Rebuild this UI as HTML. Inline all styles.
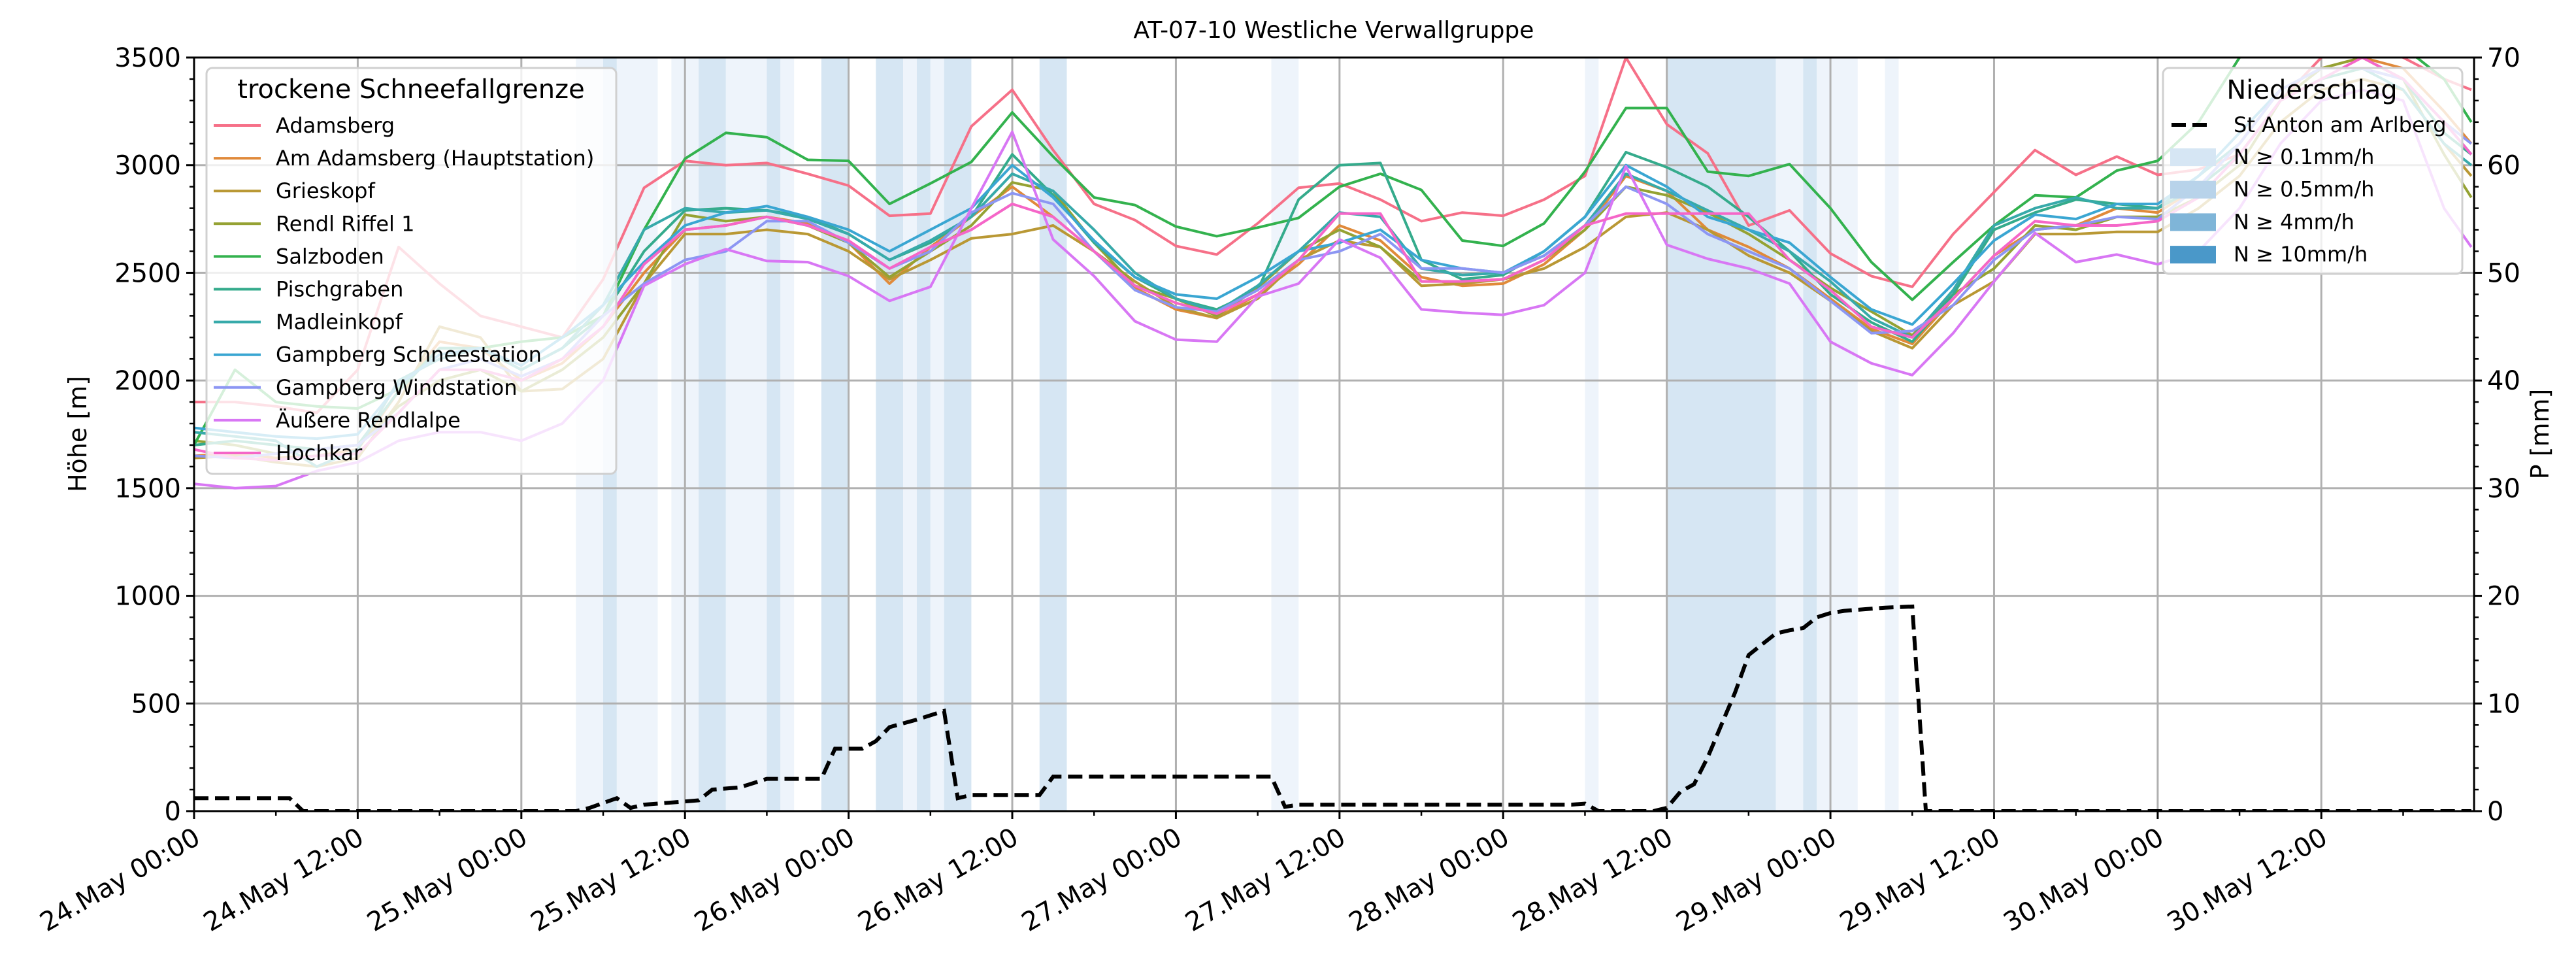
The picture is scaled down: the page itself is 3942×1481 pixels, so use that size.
<!DOCTYPE html>
<html><head><meta charset="utf-8"><style>
html,body{margin:0;padding:0;background:#fff;}
svg{display:block;font-family:"DejaVu Sans","Liberation Sans",sans-serif;}
</style></head><body>
<svg id="chart" xmlns="http://www.w3.org/2000/svg" width="3942" height="1481" viewBox="0 0 3942 1481">
<defs><clipPath id="clip"><rect x="297" y="88" width="3489" height="1153"/></clipPath></defs>
<g id="bands" clip-path="url(#clip)"></g>
<g id="grid"></g>
<g id="series" clip-path="url(#clip)"></g>
<g id="precip" clip-path="url(#clip)"></g>
<g id="axes"></g>
<text x="2041" y="58" font-size="36" text-anchor="middle">AT-07-10 Westliche Verwallgruppe</text>
<text transform="translate(132,664) rotate(-90)" font-size="38" text-anchor="middle">Höhe [m]</text>
<text transform="translate(3900,664) rotate(-90)" font-size="38" text-anchor="middle">P [mm]</text>
<g id="legend1"></g>
<g id="legend2"></g>
</svg>
<script>
const hours=[0,3,6,9,12,15,18,21,24,27,30,33,36,39,42,45,48,51,54,57,60,63,66,69,72,75,78,81,84,87,90,93,96,99,102,105,108,111,114,117,120,123,126,129,132,135,138,141,144,147,150,153,156,159,162,165,167];
const stationNames=["Adamsberg","Am Adamsberg (Hauptstation)","Grieskopf","Rendl Riffel 1","Salzboden","Pischgraben","Madleinkopf","Gampberg Schneestation","Gampberg Windstation","Äußere Rendlalpe","Hochkar"];
const stationColors=["#f67088","#e08a3a","#b99834","#95a233","#33b24e","#35ab8c","#37aaaa","#3aa6d2","#8c96f3","#d877f4","#f566c8"];
const adamsberg=[1900,1900,1880,1850,2050,2620,2450,2300,2250,2200,2470,2895,3020,3000,3010,2960,2905,2765,2775,3180,3350,3070,2820,2745,2625,2585,2730,2895,2915,2840,2740,2780,2765,2840,2950,3500,3190,3055,2720,2790,2590,2485,2435,2680,2875,3070,2955,3040,2955,2980,3050,3300,3500,3550,3500,3400,3350];
const amAdamsberg=[1650,1660,1640,1650,1680,1950,2180,2150,2000,2080,2250,2500,2700,2720,2760,2730,2640,2450,2620,2760,2900,2760,2600,2430,2330,2290,2400,2540,2720,2650,2480,2440,2450,2540,2700,2950,2880,2700,2620,2520,2380,2240,2170,2380,2580,2700,2720,2800,2780,2900,3100,3350,3450,3500,3450,3250,3100];
const grieskopf=[1640,1650,1620,1600,1640,1900,2250,2200,1950,1960,2100,2450,2680,2680,2700,2680,2600,2470,2560,2660,2680,2720,2600,2460,2340,2290,2380,2560,2650,2620,2440,2450,2470,2520,2620,2760,2780,2700,2580,2500,2370,2230,2150,2350,2460,2680,2680,2690,2690,2800,2950,3200,3350,3400,3350,3100,2950];
const rendlRiffel=[1720,1700,1660,1680,1700,1880,2000,2050,1950,2050,2200,2450,2770,2740,2760,2720,2640,2480,2600,2720,2920,2880,2640,2440,2380,2300,2430,2600,2700,2620,2460,2460,2470,2560,2700,2900,2860,2780,2680,2560,2430,2320,2210,2400,2520,2720,2700,2760,2760,2850,3000,3300,3450,3500,3400,3050,2850];
const salzboden=[1700,2050,1900,1880,1870,1960,2150,2150,2180,2200,2300,2700,3030,3150,3130,3025,3020,2820,2915,3015,3245,3040,2850,2815,2715,2670,2710,2755,2900,2960,2885,2650,2625,2730,2970,3265,3265,2970,2950,3005,2800,2550,2375,2550,2720,2860,2850,2975,3020,3200,3500,3600,3600,3600,3550,3400,3200];
const pischgraben=[1700,1720,1700,1680,1700,1950,2150,2150,2050,2150,2300,2600,2790,2800,2790,2760,2680,2560,2640,2760,3050,2860,2640,2480,2380,2330,2420,2840,3000,3010,2560,2470,2490,2600,2760,3060,2990,2900,2760,2600,2400,2270,2180,2400,2700,2780,2840,2820,2800,2900,3050,3300,3400,3450,3400,3150,3050];
const madleinkopf=[1760,1740,1720,1600,1680,2000,2100,2150,2050,2150,2350,2700,2800,2780,2790,2750,2680,2560,2650,2760,2960,2880,2700,2500,2380,2320,2440,2600,2780,2760,2520,2490,2500,2580,2720,2960,2880,2790,2700,2600,2460,2290,2200,2420,2720,2800,2850,2800,2800,2950,3100,3350,3450,3450,3350,3100,3000];
const gampbergSchnee=[1780,1760,1740,1730,1750,1980,2120,2150,2070,2200,2350,2550,2720,2780,2810,2760,2700,2600,2700,2800,3000,2850,2650,2480,2400,2380,2480,2600,2640,2700,2560,2520,2500,2600,2760,3000,2900,2760,2700,2640,2480,2330,2260,2450,2650,2770,2750,2820,2820,2950,3150,3350,3450,3450,3400,3200,3050];
const gampbergWind=[1650,1640,1660,1680,1700,1850,2050,2100,2020,2100,2300,2450,2560,2600,2740,2740,2640,2520,2600,2780,2870,2820,2600,2420,2340,2320,2420,2560,2600,2680,2520,2520,2500,2580,2720,2900,2820,2680,2600,2520,2370,2220,2230,2350,2560,2700,2720,2760,2750,2900,3100,3350,3450,3450,3400,3200,3100];
const rendlalpe=[1520,1500,1510,1580,1620,1720,1760,1760,1720,1800,2000,2440,2540,2610,2555,2550,2485,2370,2435,2800,3155,2655,2485,2275,2190,2180,2390,2450,2655,2570,2330,2315,2305,2350,2500,2995,2630,2565,2520,2450,2180,2080,2025,2220,2460,2685,2550,2585,2540,2600,2800,3100,3300,3350,3300,2800,2620];
const hochkar=[1680,1640,1630,1650,1660,1850,2050,2050,2000,2100,2250,2540,2700,2720,2760,2720,2650,2520,2620,2700,2820,2760,2600,2440,2360,2310,2400,2560,2775,2775,2460,2460,2470,2560,2720,2775,2775,2775,2775,2560,2420,2250,2200,2380,2580,2740,2720,2720,2740,2850,3050,3300,3400,3500,3400,3200,3050];
const stationSeries=[adamsberg,amAdamsberg,grieskopf,rendlRiffel,salzboden,pischgraben,madleinkopf,gampbergSchnee,gampbergWind,rendlalpe,hochkar];
const precipStart=[28,30,31,35,37,39,42,43,46,50,52,53,54,55,62,79,102,108,116,118,119,124];
const precipEnd=[30,31,34,37,39,42,43,44,48,52,53,54,55,57,64,81,103,116,118,119,122,125];
const precipLevel=[1,2,1,1,2,1,2,1,2,2,1,2,1,2,2,1,1,2,1,2,1,1];
const precipHours=[0,7,8,28,29,31,32,33,36,37,38,40,42,46,47,49,50,51,53,55,56,57,62,63,79,80,81,101,102,103,107,108,109,110,111,112,113,114,115,116,117,118,119,120,121,124,126,127,167];
const precipValues=[1.2,1.2,0,0,0.3,1.2,0.3,0.6,0.9,1.0,2.0,2.2,3.0,3.0,5.8,5.8,6.5,7.8,8.5,9.3,1.2,1.5,1.5,3.2,3.2,0.4,0.6,0.6,0.7,0,0,0.3,1.8,2.5,5,8,11,14.5,15.5,16.5,16.8,17,18,18.4,18.6,18.9,19,0,0];
const yTicks=[0,500,1000,1500,2000,2500,3000,3500];
const y2Ticks=[0,10,20,30,40,50,60,70];
const xTickLabels=["24.May 00:00","24.May 12:00","25.May 00:00","25.May 12:00","26.May 00:00","26.May 12:00","27.May 00:00","27.May 12:00","28.May 00:00","28.May 12:00","29.May 00:00","29.May 12:00","30.May 00:00","30.May 12:00"];

const NS="http://www.w3.org/2000/svg";
const X0=297,X1=3786,Y0=88,Y1=1241,HMAX=167.2;
const xs=h=>X0+(h/HMAX)*(X1-X0);
const ys=v=>Y1-(v/3500)*(Y1-Y0);
const ys2=v=>Y1-(v/70)*(Y1-Y0);
function mk(tag,attrs,parent){const e=document.createElementNS(NS,tag);for(const k in attrs)e.setAttribute(k,attrs[k]);parent.appendChild(e);return e;}

const bandColors=["","#eef4fb","#d6e6f3"];
const gb=document.getElementById('bands');
for(let i=0;i<precipStart.length;i++){
  const r=mk('rect',{x:xs(precipStart[i]),y:Y0,width:xs(precipEnd[i])-xs(precipStart[i]),height:Y1-Y0,fill:bandColors[precipLevel[i]]},gb);
  
  
}
const gg=document.getElementById('grid');
for(let i=0;i<xTickLabels.length;i++){
  const l=mk('line',{x1:xs(i*12),x2:xs(i*12),y1:Y0,y2:Y1,stroke:'#b0b0b0','stroke-width':3},gg);
  
  
}
yTicks.forEach(v=>{
  const l=mk('line',{x1:X0,x2:X1,y1:ys(v),y2:ys(v),stroke:'#b0b0b0','stroke-width':3},gg);
  
  
});
const gs=document.getElementById('series');
stationSeries.forEach((arr,si)=>{
  const pts=arr.map((v,i)=>xs(hours[i]).toFixed(1)+','+ys(v).toFixed(1)).join(' ');
  const p=mk('polyline',{points:pts,fill:'none',stroke:stationColors[si],'stroke-width':4,'stroke-linejoin':'round'},gs);
  
  
});
const gp=document.getElementById('precip');
const ppts=precipValues.map((v,i)=>xs(precipHours[i]).toFixed(1)+','+ys2(v).toFixed(1)).join(' ');
const pl=mk('polyline',{points:ppts,fill:'none',stroke:'#000','stroke-width':6,'stroke-dasharray':'22,10'},gp);



const ga=document.getElementById('axes');
mk('rect',{x:X0,y:Y0,width:X1-X0,height:Y1-Y0,fill:'none',stroke:'#000','stroke-width':3},ga);
yTicks.forEach(v=>{
  mk('line',{x1:X0-12,x2:X0,y1:ys(v),y2:ys(v),stroke:'#000','stroke-width':3},ga);
  const t=mk('text',{x:X0-20,y:ys(v)+14,'font-size':40,'text-anchor':'end'},ga);
  t.textContent=v;
  
  
});
for(let v=0;v<=3500;v+=100){if(v%500)mk('line',{x1:X0-7,x2:X0,y1:ys(v),y2:ys(v),stroke:'#000','stroke-width':2.5},ga);}
y2Ticks.forEach(v=>{
  mk('line',{x1:X1,x2:X1+12,y1:ys2(v),y2:ys2(v),stroke:'#000','stroke-width':3},ga);
  const t=mk('text',{x:X1+20,y:ys2(v)+14,'font-size':40,'text-anchor':'start'},ga);
  t.textContent=v;
  
  
});
for(let v=0;v<=70;v+=2){if(v%10)mk('line',{x1:X1,x2:X1+7,y1:ys2(v),y2:ys2(v),stroke:'#000','stroke-width':2.5},ga);}
for(let h=6;h<HMAX;h+=12)mk('line',{x1:xs(h),x2:xs(h),y1:Y1,y2:Y1+7,stroke:'#000','stroke-width':2.5},ga);
xTickLabels.forEach((lab,i)=>{
  const x=xs(i*12);
  mk('line',{x1:x,x2:x,y1:Y1,y2:Y1+12,stroke:'#000','stroke-width':3},ga);
  const t=mk('text',{'font-size':40,'text-anchor':'end',transform:'translate('+(x+12)+','+(Y1+48)+') rotate(-30)'},ga);
  t.textContent=lab;
  
  
});

const l1=document.getElementById('legend1');
mk('rect',{x:316,y:104,width:627,height:621,rx:9,fill:'#fff','fill-opacity':0.8,stroke:'#d0d0d0','stroke-width':3},l1);
const lt=mk('text',{x:629,y:150,'font-size':40,'text-anchor':'middle'},l1);lt.textContent='trockene Schneefallgrenze';
stationNames.forEach((n,i)=>{
  const y=192+i*50.1;
  const ln=mk('line',{x1:327,x2:399,y1:y,y2:y,stroke:stationColors[i],'stroke-width':4},l1);
  
  
  const t=mk('text',{x:422,y:y+11,'font-size':32},l1);t.textContent=n;
  
  
});
const l2=document.getElementById('legend2');
mk('rect',{x:3310,y:104,width:458,height:315,rx:9,fill:'#fff','fill-opacity':0.8,stroke:'#d0d0d0','stroke-width':3},l2);
const lt2=mk('text',{x:3538,y:151,'font-size':40,'text-anchor':'middle'},l2);lt2.textContent='Niederschlag';
mk('line',{x1:3323,x2:3380,y1:191,y2:191,stroke:'#000','stroke-width':6,'stroke-dasharray':'22,10'},l2);
const ta=mk('text',{x:3418,y:202,'font-size':32},l2);ta.textContent='St Anton am Arlberg';


const patchColors=["#d6e6f4","#b8d3ea","#7fb5d8","#4a98c9"];
const patchLabels=["N ≥ 0.1mm/h","N ≥ 0.5mm/h","N ≥ 4mm/h","N ≥ 10mm/h"];
patchLabels.forEach((lab,i)=>{
  const y=240+i*49.7;
  const r=mk('rect',{x:3321,y:y-13,width:70,height:27,fill:patchColors[i]},l2);
  
  
  const t=mk('text',{x:3418,y:y+11,'font-size':32},l2);t.textContent=lab;
  
  
});
</script>
</body></html>
